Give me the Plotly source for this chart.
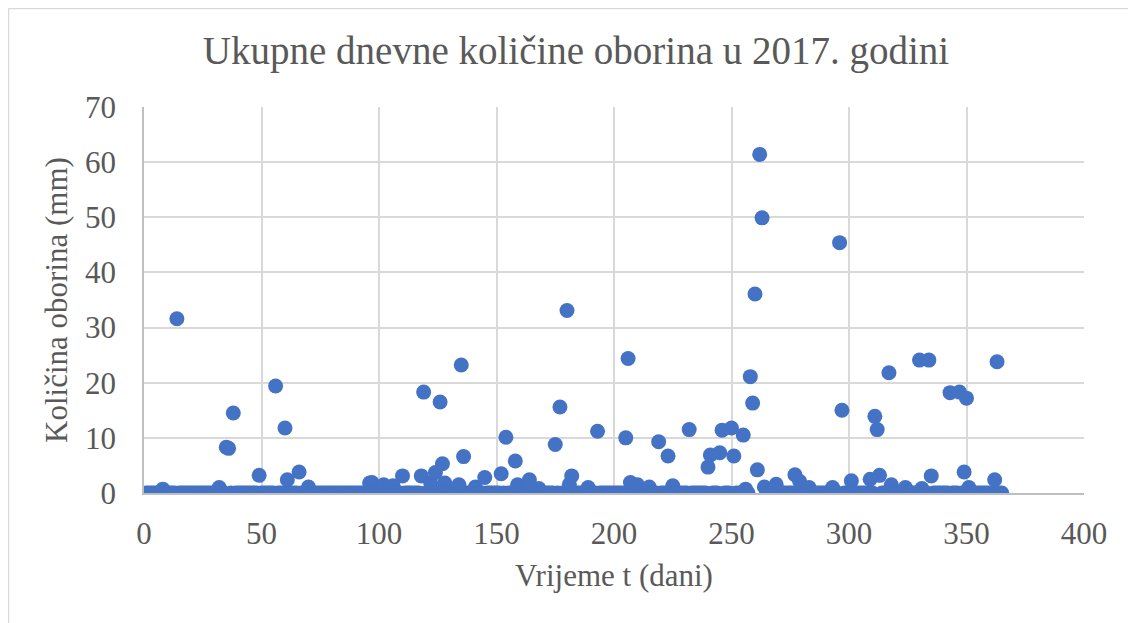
import plotly.graph_objects as go

# Days of 2017 (1..365); rain for wet days, all other days 0 mm
wet_days = [8, 14, 32, 35, 36, 38, 49, 56, 60, 61, 66, 70, 96, 97, 102, 106, 110,
            118, 119, 122, 124, 126, 127, 128, 134, 135, 136, 141, 145, 152, 154,
            158, 159, 164, 168, 175, 177, 180, 181, 182, 189, 193, 205, 206, 207,
            210, 215, 219, 223, 225, 232, 240, 241, 245, 246, 250, 251, 255, 256,
            258, 259, 260, 261, 262, 263, 264, 269, 277, 279, 283, 293, 296, 297,
            301, 309, 311, 312, 313, 317, 318, 324, 330, 331, 334, 335, 343, 347,
            349, 350, 351, 362, 363]
wet_mm = [0.7, 31.6, 1.0, 8.3, 8.1, 14.5, 3.2, 19.4, 11.8, 2.4, 3.8, 1.1, 1.8, 1.9,
          1.5, 1.3, 3.1, 3.1, 18.3, 1.8, 3.7, 16.5, 5.3, 1.8, 1.5, 23.2, 6.6, 1.1,
          2.8, 3.5, 10.1, 5.8, 1.5, 2.4, 0.8, 8.8, 15.6, 33.1, 1.6, 3.1, 1.0, 11.2,
          10.0, 24.4, 1.9, 1.5, 1.1, 9.3, 6.7, 1.3, 11.5, 4.7, 6.9, 7.3, 11.4, 11.8,
          6.7, 10.5, 0.7, 21.1, 16.3, 36.1, 4.2, 61.4, 49.9, 1.1, 1.6, 3.3, 2.1,
          1.0, 1.0, 45.4, 15.0, 2.2, 2.5, 13.9, 11.5, 3.2, 21.8, 1.5, 1.0, 24.1,
          0.8, 24.1, 3.1, 18.2, 18.3, 3.8, 17.2, 1.0, 2.4, 23.8]

days = list(range(1, 366))
rain = dict(zip(wet_days, wet_mm))
amounts = [rain.get(d, 0.0) for d in days]

x_ticks = [0, 50, 100, 150, 200, 250, 300, 350, 400]
y_ticks = [0, 10, 20, 30, 40, 50, 60, 70]

TXT = "#595959"
FONT = "Liberation Serif, Times New Roman, serif"

# plot area in figure pixels (page body adds an 8 px offset)
L, R, T, B = 136, 1076, 99, 485
W, H = 1136, 623
pw, ph = R - L, B - T

fig = go.Figure(go.Scatter(
    x=days, y=amounts, mode="markers",
    marker=dict(color="#4472C4", size=15, line=dict(width=0)),
    showlegend=False, hoverinfo="x+y"))

fig.update_layout(
    width=W, height=H,
    paper_bgcolor="white", plot_bgcolor="white",
    margin=dict(l=L, r=W - R, t=T, b=H - B, autoexpand=False),
    font=dict(family=FONT, color=TXT, size=31),
    title=dict(text="Ukupne dnevne količine oborina u 2017. godini",
               x=0.5, xanchor="center", y=1 - 42 / H, yanchor="middle",
               font=dict(family=FONT, size=39, color=TXT)),
    xaxis=dict(range=[0, 400], tickvals=x_ticks, ticktext=[str(v) for v in x_ticks],
               showgrid=True, gridcolor="#d9d9d9", gridwidth=1.5,
               showline=True, linecolor="#bfbfbf", linewidth=1.5,
               zeroline=False, ticks="outside", ticklen=12, tickcolor="rgba(0,0,0,0)",
               title=dict(text="Vrijeme t (dani)", standoff=14,
                          font=dict(family=FONT, size=31, color=TXT)),
               tickfont=dict(family=FONT, size=31, color=TXT)),
    yaxis=dict(range=[0, 70], tickvals=y_ticks, ticktext=[str(v) for v in y_ticks],
               showgrid=True, gridcolor="#d9d9d9", gridwidth=1.5,
               showline=True, linecolor="#bfbfbf", linewidth=1.5,
               zeroline=False, ticks="outside", ticklen=20, tickcolor="rgba(0,0,0,0)",
               title=dict(text="Količina oborina (mm)", standoff=8,
                          font=dict(family=FONT, size=31, color=TXT)),
               tickfont=dict(family=FONT, size=31, color=TXT)),
    shapes=[
        dict(type="line", xref="paper", yref="paper",
             x0=(0.5 - L) / pw, x1=(W + 10 - L) / pw,
             y0=(B - 0.5) / ph, y1=(B - 0.5) / ph,
             line=dict(color="#d9d9d9", width=1.5)),
        dict(type="line", xref="paper", yref="paper",
             x0=(0.5 - L) / pw, x1=(0.5 - L) / pw,
             y0=(B - 0.5) / ph, y1=(B - H - 10) / ph,
             line=dict(color="#d9d9d9", width=1.5)),
    ],
)

fig.write_html("out.html")
